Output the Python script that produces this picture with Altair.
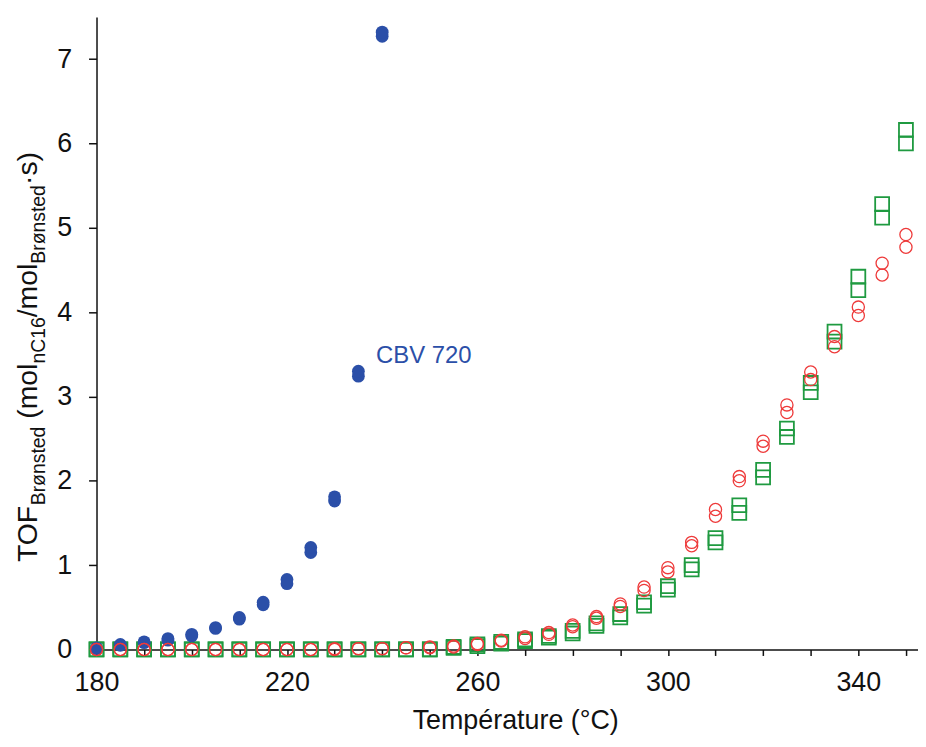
import altair as alt
import pandas as pd

# ---------------- data ----------------
blue_temps = [180, 185, 190, 195, 200, 205, 210, 215, 220, 225, 230, 235, 240]
blue_run1 = [0.01, 0.05, 0.08, 0.11, 0.16, 0.25, 0.36, 0.53, 0.78, 1.15, 1.76, 3.24, 7.27]
blue_run2 = [0.02, 0.06, 0.09, 0.13, 0.18, 0.26, 0.38, 0.56, 0.83, 1.21, 1.81, 3.30, 7.32]

temps = [180, 185, 190, 195, 200, 205, 210, 215, 220, 225, 230, 235,
         240, 245, 250, 255, 260, 265, 270, 275, 280, 285, 290, 295,
         300, 305, 310, 315, 320, 325, 330, 335, 340, 345, 350]

red_run1 = [0.00, 0.00, 0.00, 0.00, 0.00, 0.00, 0.00, 0.00, 0.00, 0.00, 0.00, 0.01,
            0.01, 0.02, 0.02, 0.03, 0.06, 0.10, 0.13, 0.18, 0.27, 0.37, 0.51, 0.70,
            0.92, 1.23, 1.58, 2.00, 2.41, 2.81, 3.20, 3.59, 3.96, 4.44, 4.77]
red_run2 = [0.00, 0.00, 0.00, 0.00, 0.00, 0.00, 0.00, 0.00, 0.00, 0.00, 0.01, 0.01,
            0.01, 0.02, 0.03, 0.04, 0.07, 0.11, 0.15, 0.20, 0.29, 0.39, 0.54, 0.74,
            0.97, 1.27, 1.66, 2.05, 2.47, 2.90, 3.29, 3.71, 4.06, 4.58, 4.92]

green_run1 = [0.00, 0.00, 0.00, 0.00, 0.00, 0.00, 0.00, 0.00, 0.00, 0.00, 0.00, 0.00,
              0.00, 0.00, 0.00, 0.02, 0.04, 0.07, 0.10, 0.14, 0.19, 0.28, 0.38, 0.52,
              0.71, 0.95, 1.27, 1.62, 2.04, 2.52, 3.05, 3.65, 4.26, 5.12, 6.00]
green_run2 = [0.00, 0.00, 0.00, 0.00, 0.00, 0.00, 0.00, 0.00, 0.00, 0.00, 0.00, 0.00,
              0.00, 0.00, 0.00, 0.03, 0.06, 0.09, 0.12, 0.16, 0.22, 0.31, 0.42, 0.56,
              0.75, 1.00, 1.32, 1.71, 2.13, 2.62, 3.16, 3.77, 4.42, 5.28, 6.16]

annot_text = ["CBV 720"]
annot_x = [238.7]
annot_y = [3.48]

x_ticks = [180, 190, 200, 210, 220, 230, 240, 250, 260, 270, 280, 290, 300, 310, 320, 330, 340, 350]
y_ticks = [0, 1, 2, 3, 4, 5, 6, 7]

# ---------------- styling ----------------
FONT = "Liberation Sans"
BLUE = "#2B4FA8"
RED = "#EE3A3A"
GREEN = "#1F9A40"

W, H = 826, 636
PX_PER_DEG = 4.7875
X_MAX = 180 + W / PX_PER_DEG


def frame(t, r1, r2):
    return pd.DataFrame({"T": list(t) + list(t), "TOF": list(r1) + list(r2)})


df_blue = frame(blue_temps, blue_run1, blue_run2)
df_red = frame(temps, red_run1, red_run2)
df_green = frame(temps, green_run1, green_run2)
df_annot = pd.DataFrame({"T": annot_x, "TOF": annot_y, "label": annot_text})

x_enc = alt.X(
    "T:Q",
    scale=alt.Scale(domain=[180, X_MAX], nice=False, zero=False),
    axis=alt.Axis(
        values=x_ticks,
        labelExpr="(datum.value - 180) % 40 == 0 ? datum.label : ''",
        labelFlush=False,
        labelOverlap=False,
        title="Température (°C)",
        titleX=421,
        titleY=79,
        titleBaseline="alphabetic",
        tickSize=6,
        labelPadding=14,
        grid=False,
    ),
)
y_enc = alt.Y(
    "TOF:Q",
    scale=alt.Scale(domain=[0, 7.5], nice=False),
    axis=alt.Axis(values=y_ticks, title=None, tickSize=8, labelPadding=17,
                  labelFlush=False, grid=False),
)

green = alt.Chart(df_green).mark_point(
    shape="square", filled=False, size=196, color=GREEN, strokeWidth=1.8, opacity=1
).encode(x=x_enc, y=y_enc)

blue = alt.Chart(df_blue).mark_point(
    shape="circle", filled=True, size=165, color=BLUE, opacity=1
).encode(x=x_enc, y=y_enc)

red = alt.Chart(df_red).mark_point(
    shape="circle", filled=False, size=150, color=RED, strokeWidth=1.3, opacity=1
).encode(x=x_enc, y=y_enc)

annot = alt.Chart(df_annot).mark_text(
    align="left", baseline="middle", fontSize=24, font=FONT, color=BLUE
).encode(x=x_enc, y=y_enc, text="label:N")

# ---------------- y-axis title with subscripts ----------------
ADV = {"T": 611, "O": 778, "F": 611, "B": 667, "r": 333, "ø": 611, "n": 556,
       "s": 500, "t": 278, "e": 556, "d": 556, " ": 278, "(": 333, "m": 833,
       "o": 556, "l": 222, "C": 722, "1": 556, "6": 556, "/": 278, "·": 333, ")": 333}
MAIN, SUB = 28.5, 19.5
# (text, font size, leading gap in em drawn as empty space)
pieces = [("TOF", MAIN, 0.0), ("Brønsted", SUB, 0.0), ("(mol", MAIN, 0.278),
          ("nC16", SUB, 0.0), ("/mol", MAIN, 0.0), ("Brønsted", SUB, 0.0),
          ("·s)", MAIN, 0.0)]
title_layers = []
cur = 548.0
for txt, fs, gap in pieces:
    cur -= gap * fs
    xb = -60 if fs == MAIN else -52
    title_layers.append(
        alt.Chart(pd.DataFrame({"k": [0]})).mark_text(
            text=txt, angle=270, align="left", baseline="alphabetic",
            fontSize=fs, font=FONT, color="#111111"
        ).encode(x=alt.value(xb), y=alt.value(cur))
    )
    cur -= sum(ADV[c] for c in txt) / 1000.0 * fs

chart = alt.layer(green, blue, red, annot, *title_layers).properties(
    width=W,
    height=H,
    autosize=alt.AutoSizeParams(type="none"),
    padding={"left": 89, "top": 7, "right": 0, "bottom": 86},
).configure_view(stroke="transparent").configure_axis(
    domainColor="#111111",
    domainWidth=1.5,
    tickColor="#111111",
    tickWidth=1.5,
    labelFont=FONT,
    labelFontSize=27,
    labelColor="#111111",
    titleFont=FONT,
    titleFontSize=27,
    titleFontWeight="normal",
    titleColor="#111111",
)

chart.save("out.html", embed_options={"renderer": "svg", "actions": False})
